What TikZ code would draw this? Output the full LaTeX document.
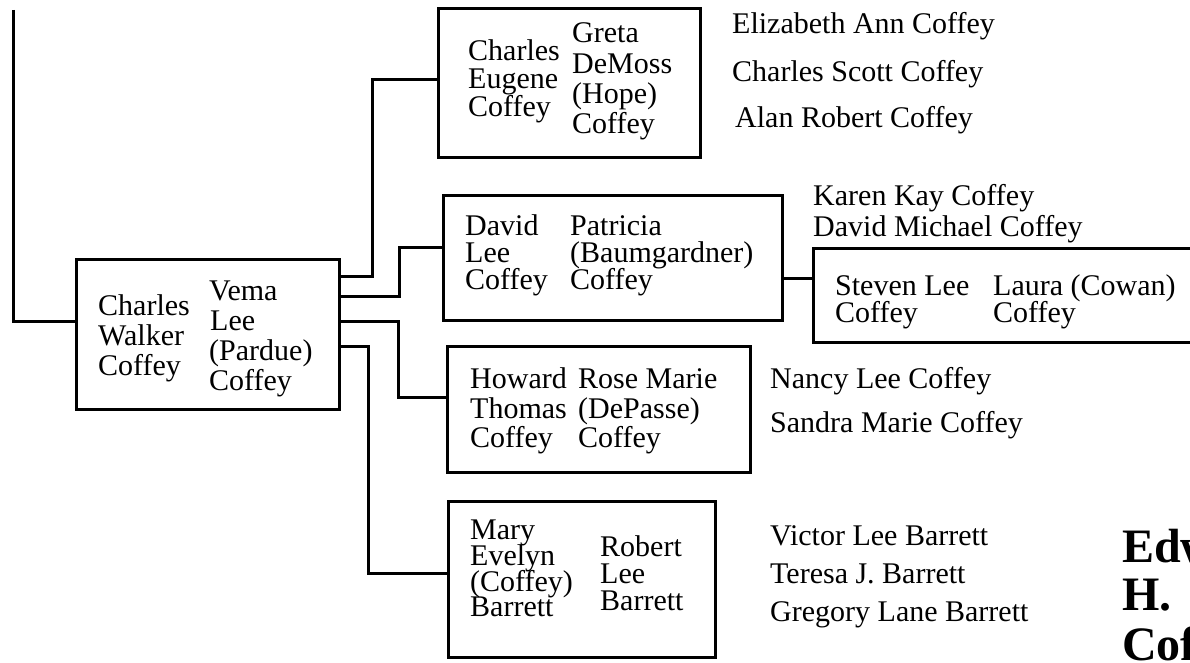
\documentclass[tikz,border=0pt]{standalone}
\usepackage{fontspec}
\setmainfont{Liberation Serif}
\begin{document}
\begin{tikzpicture}[x=1pt,y=-1pt,
  box/.style={draw, line width=3pt, inner sep=0pt},
  conn/.style={line width=3pt},
  nm/.style={anchor=base west, inner sep=0pt, text height=20pt, text depth=5pt, font=\fontsize{30}{30}\selectfont},
  big/.style={anchor=base west, inner sep=0pt, font=\fontsize{48}{48}\selectfont\bfseries}]
\clip (0,0) rectangle (1190,663);
\fill[white] (0,0) rectangle (1190,663);
% boxes
\node[box, minimum width=263pt, minimum height=150pt] (main) at (207.5,334) {};
\node[box, minimum width=262pt, minimum height=149pt] (b1) at (569,83.5) {};
\node[box, minimum width=339pt, minimum height=125pt] (b2) at (612.5,257.5) {};
\node[box, minimum width=427pt, minimum height=94pt] (b5) at (1026.5,295) {};
\node[box, minimum width=303pt, minimum height=126pt] (b3) at (598.5,409) {};
\node[box, minimum width=267pt, minimum height=156pt] (b4) at (581.5,579) {};
% connector corners
\coordinate (top) at (13,10);
\coordinate (k0) at (13,321);
\coordinate (k1) at (372,80);
\coordinate (k2) at (399,247);
\coordinate (k3) at (398,397);
\coordinate (k4) at (368,573);
\coordinate (k5) at (800,278);
\draw[conn] (top) -- (k0) -- (main.west |- k0);
\draw[conn] ([yshift=-19pt]main.north east) -| (k1) -- (b1.west |- k1);
\draw[conn] ([yshift=-39pt]main.north east) -| (k2) -- (b2.west |- k2);
\draw[conn] ([yshift=-64pt]main.north east) -| (k3) -- (b3.west |- k3);
\draw[conn] ([yshift=-89pt]main.north east) -| (k4) -- (b4.west |- k4);
\draw[conn] (b2.east |- k5) -- (b5.west |- k5);
% main couple
\node[nm] (m1) at (98,315) {Charles};
\node[nm] (m2) at (98,345) {Walker};
\node[nm] (m3) at (98,375) {Coffey};
\node[nm] (w1) at (209,300) {Vema};
\node[nm] (w2) at (210,330) {Lee};
\node[nm] (w3) at (209,360) {(Pardue)};
\node[nm] (w4) at (209,390) {Coffey};
% box 1
\node[nm] (a1) at (468,61) {Charles};
\node[nm] (a2) at (468,89) {Eugene};
\node[nm] (a3) at (468,117) {Coffey};
\node[nm] (a4) at (572,43) {Greta};
\node[nm] (a5) at (572,74) {DeMoss};
\node[nm] (a6) at (572,104) {(Hope)};
\node[nm] (a7) at (572,134) {Coffey};
\node[nm] (ac1) at (732,34) {Elizabeth Ann Coffey};
\node[nm] (ac2) at (732,82) {Charles Scott Coffey};
\node[nm] (ac3) at (735,128) {Alan Robert Coffey};
% box 2
\node[nm] (d1) at (465,235) {David};
\node[nm] (d2) at (465,262) {Lee};
\node[nm] (d3) at (465,289) {Coffey};
\node[nm] (d4) at (570,235) {Patricia};
\node[nm] (d5) at (570,262) {(Baumgardner)};
\node[nm] (d6) at (570,289) {Coffey};
\node[nm] (dc1) at (813,205) {Karen Kay Coffey};
\node[nm] (dc2) at (813,236) {David Michael Coffey};
% box 5
\node[nm] (s1) at (835,295) {Steven Lee};
\node[nm] (s2) at (835,322) {Coffey};
\node[nm] (s3) at (993,295) {Laura (Cowan)};
\node[nm] (s4) at (993,322) {Coffey};
% box 3
\node[nm] (h1) at (470,388) {Howard};
\node[nm] (h2) at (470,418) {Thomas};
\node[nm] (h3) at (470,447) {Coffey};
\node[nm] (h4) at (578,388) {Rose Marie};
\node[nm] (h5) at (578,418) {(DePasse)};
\node[nm] (h6) at (578,447) {Coffey};
\node[nm] (hc1) at (770,388) {Nancy Lee Coffey};
\node[nm] (hc2) at (770,432) {Sandra Marie Coffey};
% box 4
\node[nm] (e1) at (470,539) {Mary};
\node[nm] (e2) at (470,565) {Evelyn};
\node[nm] (e3) at (470,591) {(Coffey)};
\node[nm] (e4) at (470,616) {Barrett};
\node[nm] (e5) at (600,556) {Robert};
\node[nm] (e6) at (600,583) {Lee};
\node[nm] (e7) at (600,610) {Barrett};
\node[nm] (ec1) at (770,545) {Victor Lee Barrett};
\node[nm] (ec2) at (770,583) {Teresa J. Barrett};
\node[nm] (ec3) at (770,621) {Gregory Lane Barrett};
% big name
\node[big] (n1) at (1122,562) {Edward};
\node[big] (n2) at (1122,610) {H.};
\node[big] (n3) at (1122,660) {Coffey};
\end{tikzpicture}
\end{document}
